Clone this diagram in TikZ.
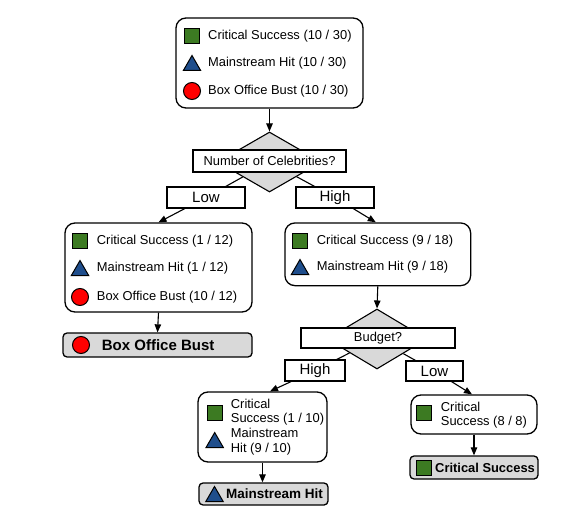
\documentclass[tikz,border=0pt]{standalone}
\usepackage{fontspec}
\setmainfont{Liberation Sans}
\usetikzlibrary{shapes.geometric,arrows.meta,calc}
\definecolor{csgreen}{HTML}{3C7A22}
\definecolor{mhblue}{HTML}{1F4E8C}
\definecolor{bobred}{HTML}{FF0000}
\definecolor{leafgray}{HTML}{D9D9D9}
\newcommand\fsn{\fontsize{12.9}{14.5}\selectfont}
\newcommand\fsl{\fontsize{15}{17}\selectfont}
\tikzset{
  box/.style={draw, rounded corners=10pt, line width=1.3pt, fill=white, inner sep=0pt},
  leaf/.style={draw, rounded corners=4pt, line width=1.3pt, fill=leafgray, inner sep=0pt},
  dec/.style={draw, diamond, fill=leafgray, line width=1.1pt, inner sep=0pt},
  declab/.style={draw, rectangle, fill=white, line width=1.1pt, inner sep=0pt, font=\fsn},
  brlab/.style={draw, rectangle, fill=white, line width=1.1pt, inner sep=0pt, font=\fsl},
  txt/.style={anchor=west, inner sep=0pt, font=\fsn, align=left},
  sq/.style={draw, rectangle, fill=csgreen, line width=1pt, minimum size=15pt, inner sep=0pt},
  tri/.style={draw, regular polygon, regular polygon sides=3, fill=mhblue, line width=1pt, minimum size=20pt, inner sep=0pt, yshift=-2.5pt},
  circ/.style={draw, circle, fill=bobred, line width=1pt, minimum size=17pt, inner sep=0pt},
  arr/.style={-{Triangle[length=8pt,width=6.5pt]}, line width=1.1pt},
  ln/.style={line width=1.1pt}
}
\begin{document}
\begin{tikzpicture}[x=1pt,y=-1pt]
\useasboundingbox (0,0) rectangle (581,532);

% root
\node[box, minimum width=187pt, minimum height=90pt] (root) at (269.5,63) {};
\node[sq] (r1) at (192,36) {};
\node[txt] (r1t) at (208,36) {Critical Success (10 / 30)};
\node[tri] (r2) at (192,63) {};
\node[txt] (r2t) at (208,63) {Mainstream Hit (10 / 30)};
\node[circ] (r3) at (192,91) {};
\node[txt] (r3t) at (208,91) {Box Office Bust (10 / 30)};

% decision 1
\node[dec, minimum width=104pt, minimum height=60pt] (d1) at (269.5,162) {};
\node[declab, minimum width=153pt, minimum height=22pt] (d1l) at (269.5,161) {Number of Celebrities?};

% left child
\node[box, minimum width=187pt, minimum height=89pt] (c1) at (158.5,267.5) {};
\node[sq] (a1) at (80,241) {};
\node[txt] (a1t) at (96.7,241) {Critical Success (1 / 12)};
\node[tri] (a2) at (80,268) {};
\node[txt] (a2t) at (96.7,268) {Mainstream Hit (1 / 12)};
\node[circ] (a3) at (80,297) {};
\node[txt] (a3t) at (96.7,297) {Box Office Bust (10 / 12)};

% right child
\node[box, minimum width=185.7pt, minimum height=62.7pt] (c2) at (377.8,254.3) {};
\node[sq] (b1) at (300,241) {};
\node[txt] (b1t) at (316.7,241) {Critical Success (9 / 18)};
\node[tri] (b2) at (300,267) {};
\node[txt] (b2t) at (316.7,267) {Mainstream Hit (9 / 18)};

% leaf 1
\node[leaf, minimum width=189pt, minimum height=24pt] (l1) at (157.5,345) {};
\node[circ] (l1i) at (81,345) {};
\node[txt, font=\fsl\bfseries] (l1t) at (101.7,345) {Box Office Bust};

% decision 2
\node[dec, minimum width=100pt, minimum height=60pt] (d2) at (377,339) {};
\node[declab, minimum width=154pt, minimum height=20pt] (d2l) at (378,338) {Budget?};

% budget high child
\node[box, minimum width=129pt, minimum height=70pt] (c3) at (262.5,427) {};
\node[sq] (e1) at (214.7,413) {};
\node[txt] (e1t) at (230.7,412) {Critical\\Success (1 / 10)};
\node[tri] (e2) at (214.7,440) {};
\node[txt] (e2t) at (230.7,441.5) {Mainstream\\Hit (9 / 10)};

% budget low child
\node[box, minimum width=126pt, minimum height=39pt] (c4) at (474,414.5) {};
\node[sq] (f1) at (424,413) {};
\node[txt] (f1t) at (440.7,415) {Critical\\Success (8 / 8)};

% leaves
\node[leaf, minimum width=129pt, minimum height=22pt] (l3) at (263.5,494) {};
\node[tri] (l3i) at (214.5,494) {};
\node[txt, font=\fontsize{13.5}{15}\selectfont\bfseries] (l3t) at (226,494) {Mainstream Hit};

\node[leaf, minimum width=128pt, minimum height=23pt] (l4) at (474,467.5) {};
\node[sq] (l4i) at (424,467.5) {};
\node[txt, font=\fsn\bfseries] (l4t) at (435,467.5) {Critical Success};

% branch labels (drawn after lines via layering order below)
\coordinate (c3in) at ($(c3.north)+(7.5,0)$);

\begin{scope}
\draw[arr] (root.south) -- (d1.north);
\draw[arr] (c2.south) -- (d2.north);
\draw[arr] (c1.south) -- (l1.north);
\draw[arr] (c3.south) -- (c3.south |- l3.north);
\draw[arr] (c4.south) -- (l4.north);
\end{scope}

\node[brlab, minimum width=78pt, minimum height=21pt] (lo1) at (206,197.5) {Low};
\node[brlab, minimum width=78pt, minimum height=21pt] (hi1) at (335,197.5) {High};
\node[brlab, minimum width=60pt, minimum height=21pt] (hi2) at (315,370.5) {High};
\node[brlab, minimum width=57pt, minimum height=20pt] (lo2) at (434.5,371) {Low};

\draw[ln] (d1) -- (lo1);
\draw[arr] (lo1) -- (c1.north);
\draw[ln] (d1) -- (hi1);
\draw[arr] (hi1) -- ($(c2.north)+(-2,0)$);
\draw[ln] (d2) -- (hi2);
\draw[arr] (hi2) -- (c3in);
\draw[ln] (d2) -- (lo2);
\draw[arr] (lo2) -- ($(c4.north)+(-2,0)$);
\end{tikzpicture}
\end{document}
